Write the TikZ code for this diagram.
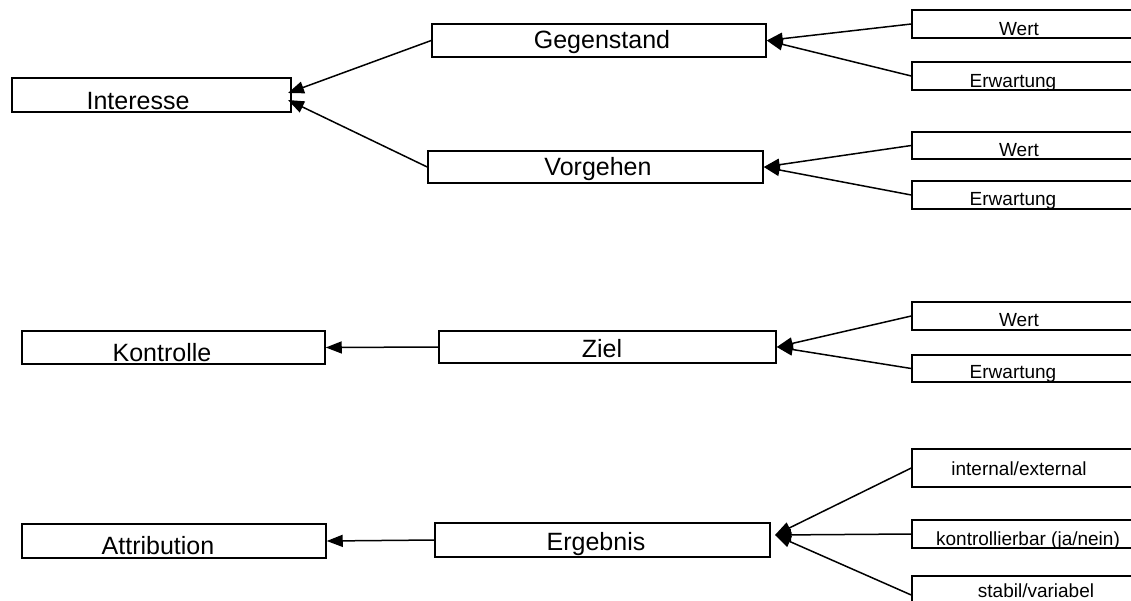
\documentclass[tikz,border=0pt]{standalone}
\usepackage{fontspec}
\setmainfont{Liberation Sans}
\usetikzlibrary{arrows.meta}
\tikzset{
  box/.style={draw, line width=1.5pt, inner sep=0pt, fill=white},
  bigtxt/.style={anchor=base, inner sep=0pt, font=\fontsize{25}{30}\selectfont},
  smalltxt/.style={anchor=base, inner sep=0pt, font=\fontsize{19}{23}\selectfont},
  arr/.style={line width=1.5pt, -{Triangle[length=16pt,width=12pt]}},
}
\begin{document}
\begin{tikzpicture}[x=1pt,y=-1pt]
\clip (0,0) rectangle (1131,600);
\fill[white] (0,0) rectangle (1131,600);
% left boxes
\node[box, minimum width=279pt, minimum height=34pt] (int) at (151.5,95) {};
\node[box, minimum width=303pt, minimum height=33pt] (kon) at (173.5,347.5) {};
\node[box, minimum width=304pt, minimum height=34pt] (att) at (174,541) {};
% middle boxes
\node[box, minimum width=334pt, minimum height=33pt] (geg) at (599,40.5) {};
\node[box, minimum width=335pt, minimum height=32pt] (vor) at (595.5,167) {};
\node[box, minimum width=337pt, minimum height=32pt] (ziel) at (607.5,347) {};
\node[box, minimum width=335pt, minimum height=34pt] (erg) at (602.5,540) {};
% right boxes
\node[box, minimum width=228pt, minimum height=28pt] (w1) at (1026,24) {};
\node[box, minimum width=228pt, minimum height=28pt] (e1) at (1026,76) {};
\node[box, minimum width=228pt, minimum height=27pt] (w2) at (1026,145.5) {};
\node[box, minimum width=228pt, minimum height=28pt] (e2) at (1026,195) {};
\node[box, minimum width=228pt, minimum height=28pt] (w3) at (1026,316) {};
\node[box, minimum width=228pt, minimum height=27pt] (e3) at (1026,368.5) {};
\node[box, minimum width=228pt, minimum height=38pt] (ie) at (1026,468) {};
\node[box, minimum width=228pt, minimum height=28pt] (kb) at (1026,534) {};
\node[box, minimum width=228pt, minimum height=38pt] (sv) at (1026,595) {};
% texts
\node[bigtxt] (tint) at (138,109) {Interesse};
\node[bigtxt] (tgeg) at (602,48) {Gegenstand};
\node[bigtxt] (tvor) at (598,175) {Vorgehen};
\node[bigtxt] (tkon) at (162,361) {Kontrolle};
\node[bigtxt] (tziel) at (602,357) {Ziel};
\node[bigtxt] (tatt) at (158,554) {Attribution};
\node[bigtxt] (terg) at (596,550) {Ergebnis};
\node[smalltxt] (tw1) at (1019,35) {Wert};
\node[smalltxt] (te1) at (1013,87) {Erwartung};
\node[smalltxt] (tw2) at (1019,156) {Wert};
\node[smalltxt] (te2) at (1013,205) {Erwartung};
\node[smalltxt] (tw3) at (1019,326) {Wert};
\node[smalltxt] (te3) at (1013,378) {Erwartung};
\node[smalltxt] (tie) at (1019,475) {internal/external};
\node[smalltxt] (tkb) at (1028,545) {kontrollierbar (ja/nein)};
\node[smalltxt] (tsv) at (1036,597) {stabil/variabel};
% tip coordinates
\coordinate (intA) at (288,93);
\coordinate (intB) at (288,100);
\coordinate (ergT) at (775,535);
% connectors
\draw[arr] (geg.west) -- (intA);
\draw[arr] (vor.west) -- (intB);
\draw[arr] (w1.west) -- (geg.east);
\draw[arr] (e1.west) -- (geg.east);
\draw[arr] (w2.west) -- (vor.east);
\draw[arr] (e2.west) -- (vor.east);
\draw[arr] (w3.west) -- (ziel.east);
\draw[arr] (e3.west) -- (ziel.east);
\draw[arr] (ziel.west) -- (kon.east);
\draw[arr] (ie.west) -- (ergT);
\draw[arr] (kb.west) -- (ergT);
\draw[arr] (sv.west) -- (ergT);
\draw[arr] (erg.west) -- (att.east);
\end{tikzpicture}
\end{document}
